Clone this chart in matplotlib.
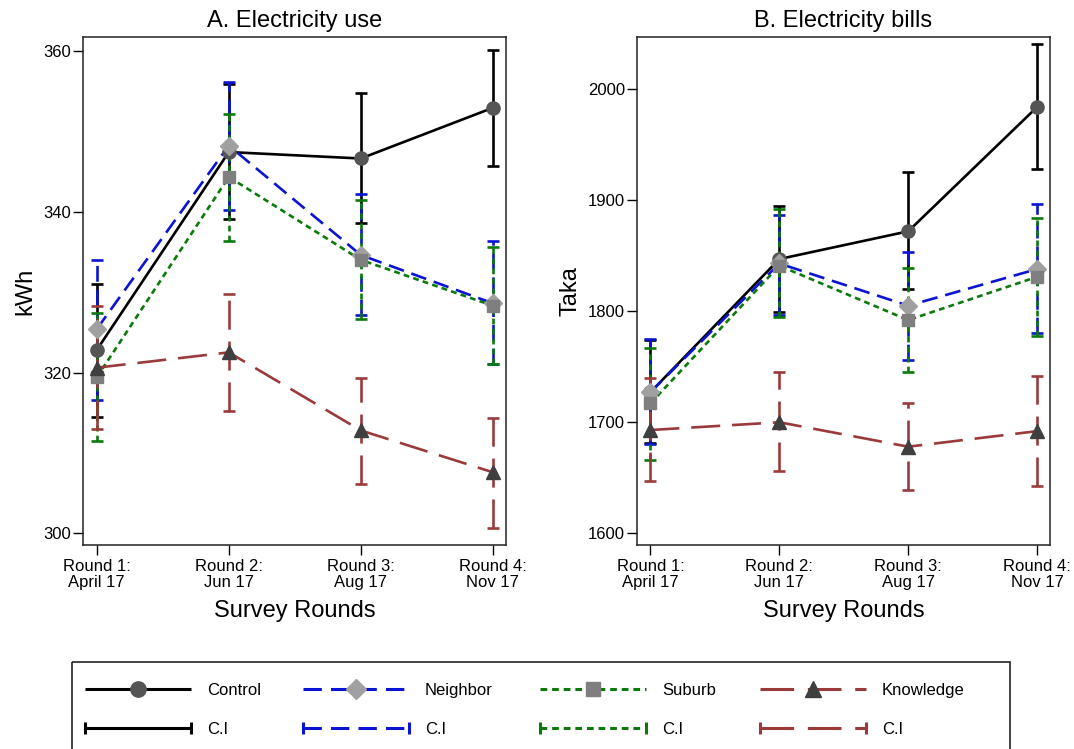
import matplotlib
matplotlib.use("Agg")
import matplotlib.pyplot as plt
from matplotlib.patches import Rectangle
import numpy as np

plt.rcParams['font.family'] = ['Liberation Sans', 'DejaVu Sans']

rounds = ["Round 1:\nApril 17", "Round 2:\nJun 17", "Round 3:\nAug 17", "Round 4:\nNov 17"]
series_names = ["Control", "Neighbor", "Suburb", "Knowledge"]

# Panel A: Electricity use (kWh)
use_mean = {
    "Control":   [322.8, 347.4, 346.6, 352.9],
    "Neighbor":  [325.4, 348.2, 334.6, 328.6],
    "Suburb":    [319.4, 344.3, 334.0, 328.3],
    "Knowledge": [320.6, 322.5, 312.8, 307.6],
}
use_lo = {
    "Control":   [314.5, 339.1, 338.6, 345.7],
    "Neighbor":  [316.6, 340.2, 327.1, 321.0],
    "Suburb":    [311.5, 336.4, 326.6, 321.0],
    "Knowledge": [313.0, 315.2, 306.2, 300.7],
}
use_hi = {
    "Control":   [331.0, 355.9, 354.8, 360.1],
    "Neighbor":  [334.0, 356.1, 342.2, 336.3],
    "Suburb":    [327.4, 352.1, 341.4, 335.6],
    "Knowledge": [328.3, 329.8, 319.3, 314.4],
}

# Panel B: Electricity bills (Taka)
bill_mean = {
    "Control":   [1727, 1847, 1872, 1984],
    "Neighbor":  [1727, 1843, 1805, 1838],
    "Suburb":    [1717, 1841, 1792, 1831],
    "Knowledge": [1693, 1700, 1678, 1692],
}
bill_lo = {
    "Control":   [1681, 1799, 1820, 1928],
    "Neighbor":  [1680, 1797, 1756, 1780],
    "Suburb":    [1666, 1795, 1745, 1778],
    "Knowledge": [1647, 1656, 1639, 1643],
}
bill_hi = {
    "Control":   [1774, 1895, 1925, 2041],
    "Neighbor":  [1775, 1887, 1853, 1897],
    "Suburb":    [1767, 1892, 1839, 1884],
    "Knowledge": [1740, 1745, 1717, 1742],
}

styles = {
    "Control":   dict(color="black",   ls=(0, ()),         marker="o", mfc="#555555", ms=9.5),
    "Neighbor":  dict(color="#0a14d2", ls=(0, (6, 3)),     marker="D", mfc="#a0a0a0", ms=9),
    "Suburb":    dict(color="#0b7a0b", ls=(0, (2.2, 1.6)), marker="s", mfc="#7f7f7f", ms=9),
    "Knowledge": dict(color="#9b3a3a", ls=(0, (11, 4.5)),  marker="^", mfc="#3f3f3f", ms=9.5),
}

LW = 1.9

fig = plt.figure(figsize=(10.74, 7.49), dpi=100)
axA = fig.add_axes([0.0773, 0.2717, 0.3939, 0.6789])
axB = fig.add_axes([0.5931, 0.2717, 0.3846, 0.6789])

x = np.arange(len(rounds))


def draw(ax, means, los, his):
    for name in series_names:
        st = styles[name]
        m = np.array(means[name], float)
        lo = np.array(los[name], float)
        hi = np.array(his[name], float)
        eb = ax.errorbar(x, m, yerr=[m - lo, hi - m], fmt="none", ecolor=st["color"],
                         elinewidth=LW, capsize=4, capthick=LW, zorder=2)
        for lc in eb[2]:
            lc.set_linestyle(st["ls"])
        ax.plot(x, m, color=st["color"], ls=st["ls"], lw=LW, zorder=3)
        ax.plot(x, m, ls="none", marker=st["marker"], ms=st["ms"], mfc=st["mfc"],
                mec=st["mfc"], zorder=4)


draw(axA, use_mean, use_lo, use_hi)
draw(axB, bill_mean, bill_lo, bill_hi)

axA.set_ylim(298.5, 361.7)
axA.set_yticks([300, 320, 340, 360])
axB.set_ylim(1589, 2047)
axB.set_yticks([1600, 1700, 1800, 1900, 2000])

for ax, title, ylab in [(axA, "A. Electricity use", "kWh"), (axB, "B. Electricity bills", "Taka")]:
    ax.set_xlim(-0.104, 3.1)
    ax.set_xticks(x)
    ax.set_xticklabels(rounds, fontsize=12, linespacing=1.15)
    ax.tick_params(axis="both", direction="out", length=7, width=1.0, labelsize=12)
    ax.tick_params(axis="y", pad=1.5)
    ax.tick_params(axis="x", pad=2.5)
    ax.set_title(title, fontsize=17, pad=7)
    ax.set_ylabel(ylab, fontsize=17, labelpad=5)
    ax.set_xlabel("Survey Rounds", fontsize=17, labelpad=7)
    for sp in ax.spines.values():
        sp.set_linewidth(1.1)
        sp.set_color("#222222")

# Legend drawn manually (two rows)
lg = fig.add_axes([0, 0, 1, 1], zorder=-1)
lg.set_xlim(0, 1074)
lg.set_ylim(749, 0)
lg.axis("off")
lg.add_patch(Rectangle((72, 662), 938, 110, fill=False, lw=1.2, ec="#222222", clip_on=False))
col_x = [85, 303, 540, 760]
row1, row2 = 689, 728
hlen = 106
for cx, name in zip(col_x, series_names):
    st = styles[name]
    lg.plot([cx, cx + hlen], [row1, row1], color=st["color"], ls=st["ls"], lw=LW + 0.3)
    lg.plot([cx + hlen / 2], [row1], ls="none", marker=st["marker"], ms=st["ms"] + 1.5,
            mfc=st["mfc"], mec=st["mfc"])
    lg.text(cx + hlen + 16, row1, name, fontsize=12, va="center_baseline", ha="left")
    lg.plot([cx, cx + hlen], [row2, row2], color=st["color"], ls=st["ls"], lw=LW + 0.3)
    lg.plot([cx, cx + hlen], [row2, row2], ls="none", marker="|", ms=9, mew=LW + 0.3,
            color=st["color"])
    lg.text(cx + hlen + 16, row2, "C.I", fontsize=12, va="center_baseline", ha="left")

fig.savefig("out.png", dpi=100)
